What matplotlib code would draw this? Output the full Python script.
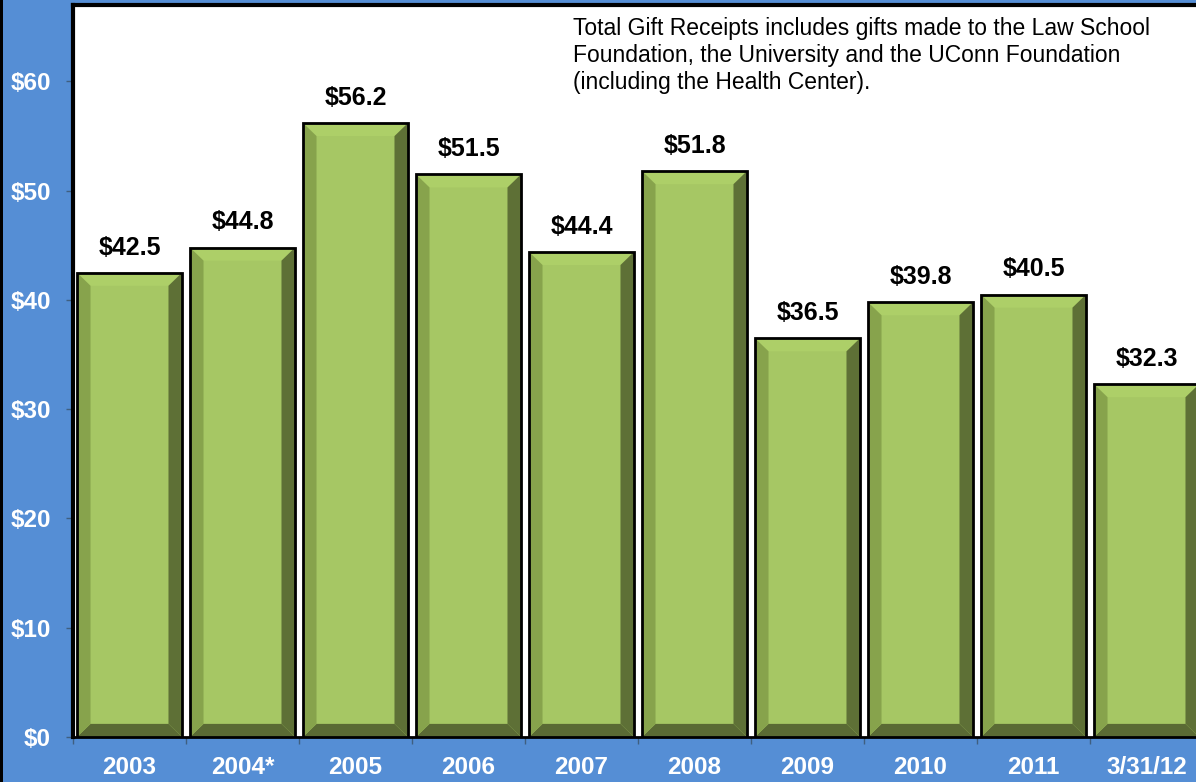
import matplotlib
matplotlib.use("Agg")
import matplotlib.pyplot as plt
from matplotlib.patches import Polygon, Rectangle

plt.rcParams["font.family"] = ["Liberation Sans", "DejaVu Sans"]

# gift receipts, millions of dollars
years = ["2003", "2004*", "2005", "2006", "2007", "2008", "2009", "2010", "2011", "3/31/12"]
receipts = [42.5, 44.8, 56.2, 51.5, 44.4, 51.8, 36.5, 39.8, 40.5, 32.3]
y_ticks = [0, 10, 20, 30, 40, 50, 60]
note = ("Total Gift Receipts includes gifts made to the Law School\n"
        "Foundation, the University and the UConn Foundation\n"
        "(including the Health Center).")

BG = "#558ED5"
FACE = "#A6C764"
TOP = "#ADCF68"
LEFT = "#87A34C"
RIGHT = "#5E7036"
BOTTOM = "#5A6A34"

W, H = 1196, 782
fig = plt.figure(figsize=(W / 100, H / 100), dpi=100, facecolor=BG)
ax = fig.add_axes([73 / W, 45 / H, 1130 / W, 732 / H])
ax.set_facecolor("white")

half = 0.465   # half bar width
dx = 0.12      # bevel width (x units)
dy = 1.2       # bevel height (y units)

for i, v in enumerate(receipts):
    l, r = i - half, i + half
    ax.bar(i, v, width=2 * half, color=FACE, zorder=2)
    ax.add_patch(Polygon([(l, v), (r, v), (r - dx, v - dy), (l + dx, v - dy)],
                         closed=True, color=TOP, lw=0, zorder=3))
    ax.add_patch(Polygon([(l, 0), (r, 0), (r - dx, dy), (l + dx, dy)],
                         closed=True, color=BOTTOM, lw=0, zorder=3))
    ax.add_patch(Polygon([(l, 0), (l, v), (l + dx, v - dy), (l + dx, dy)],
                         closed=True, color=LEFT, lw=0, zorder=3))
    ax.add_patch(Polygon([(r, 0), (r, v), (r - dx, v - dy), (r - dx, dy)],
                         closed=True, color=RIGHT, lw=0, zorder=3))
    ax.add_patch(Rectangle((l, 0), 2 * half, v, fill=False, ec="black",
                           lw=2, zorder=4))
    ax.text(i, v + 2.3, f"${v:.1f}", ha="center", va="center",
            fontsize=18, fontweight="bold", color="black", zorder=5)

ax.set_xlim(-0.5, len(years) - 0.5)
ax.set_ylim(0, 67.0)

ax.set_yticks(y_ticks)
ax.set_yticklabels([f"${t}" for t in y_ticks], color="white",
                   fontsize=17.5, fontweight="bold")
ax.tick_params(axis="y", length=5, width=1, color="#3F5F80", pad=11)

ax.set_xticks(range(len(years)))
ax.set_xticklabels(years, color="white", fontsize=17.5, fontweight="bold")
ax.tick_params(axis="x", which="major", length=0, pad=14)
ax.set_xticks([i + 0.5 for i in range(-1, len(years))], minor=True)
ax.tick_params(axis="x", which="minor", length=5, width=1, color="#3F5F80")

for side in ["left", "top"]:
    ax.spines[side].set_linewidth(3)
    ax.spines[side].set_color("black")
ax.spines["bottom"].set_linewidth(2)
ax.spines["right"].set_visible(False)

ax.text(0.4425, 0.984, note, transform=ax.transAxes, ha="left", va="top",
        fontsize=16.5, color="black", linespacing=1.22)

# dark strip along the left edge
fig.add_artist(Rectangle((0, 0), 3 / W, 1, transform=fig.transFigure,
                         color="black", lw=0))

fig.savefig("out.png", dpi=100, facecolor=BG)
